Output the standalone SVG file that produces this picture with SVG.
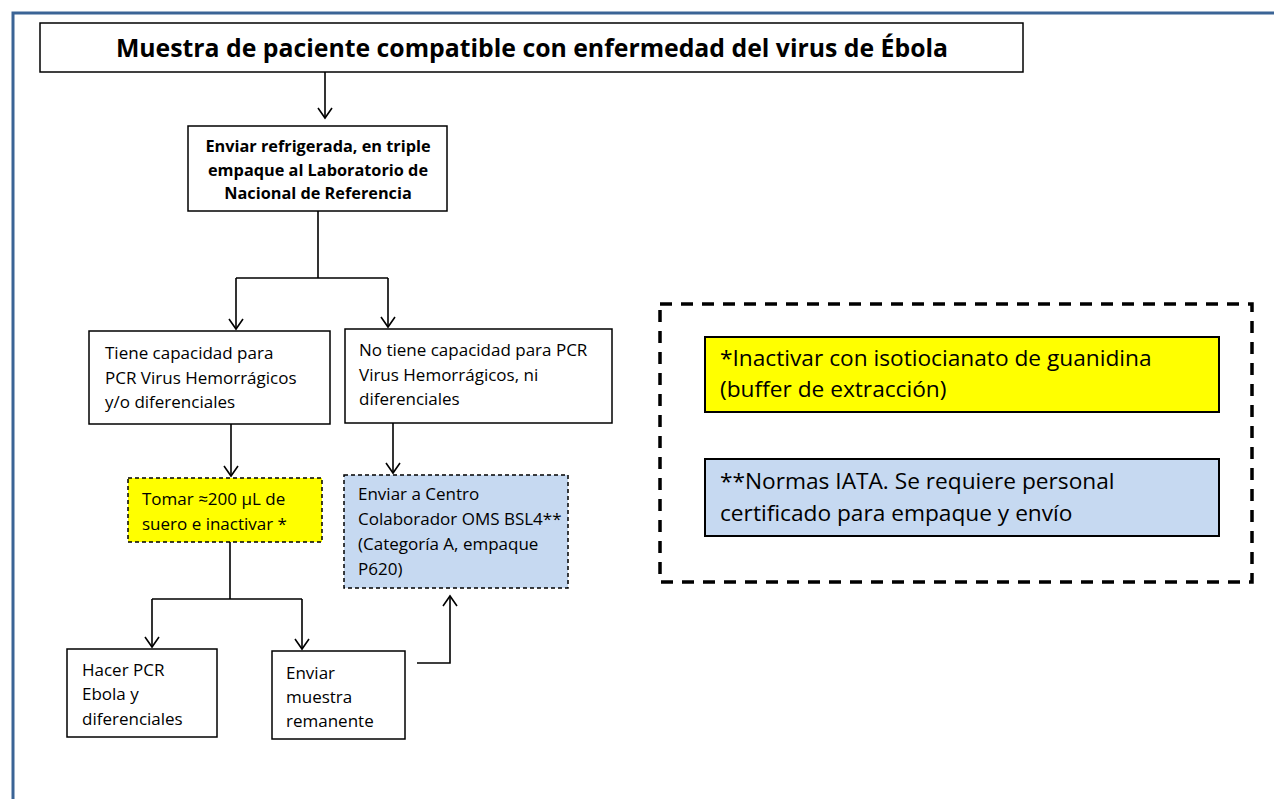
<svg xmlns="http://www.w3.org/2000/svg" width="1274" height="799" viewBox="0 0 1274 799">
<defs>
<marker id="arr" markerUnits="userSpaceOnUse" markerWidth="16" markerHeight="16" refX="12" refY="8" orient="auto">
<path d="M2,1 L12,8 L2,15" fill="none" stroke="#000" stroke-width="1.6"/>
</marker>
<style>
.box{fill:#fff;stroke:#000;stroke-width:1.5}
.ybox{fill:#ffff00;stroke:#000;stroke-width:1.5;stroke-dasharray:4,3}
.bbox{fill:#c6d9f1;stroke:#000;stroke-width:1.5;stroke-dasharray:4,3}
.ly{fill:#ffff00;stroke:#000;stroke-width:2}
.lb{fill:#c6d9f1;stroke:#000;stroke-width:2}
.line{fill:none;stroke:#000;stroke-width:1.6}
.t{font-family:"Open Sans","Noto Sans","Liberation Sans",sans-serif;font-size:17px;fill:#000}
.tb{font-family:"Open Sans","Noto Sans","Liberation Sans",sans-serif;font-size:16.3px;font-weight:bold;fill:#000;text-anchor:middle}
.tt{font-family:"Open Sans","Noto Sans","Liberation Sans",sans-serif;font-size:24.8px;font-weight:bold;fill:#000;text-anchor:middle}
.tl{font-family:"Open Sans","Noto Sans","Liberation Sans",sans-serif;font-size:22.7px;fill:#000}
</style>
</defs>
<rect width="1274" height="799" fill="#fff"/>
<path d="M13,799 L13,13 L1274,13" fill="none" stroke="#3b6496" stroke-width="3"/>

<g id="connectors">
<path class="line" d="M325,72 L325,118" marker-end="url(#arr)"/>
<path class="line" d="M318,211 L318,278 M236,278 L388,278"/>
<path class="line" d="M236,278 L236,329" marker-end="url(#arr)"/>
<path class="line" d="M388,278 L388,327" marker-end="url(#arr)"/>
<path class="line" d="M231,424 L231,476" marker-end="url(#arr)"/>
<path class="line" d="M393,423 L393,473" marker-end="url(#arr)"/>
<path class="line" d="M230,542 L230,599 M152,599 L302,599"/>
<path class="line" d="M152,599 L152,647" marker-end="url(#arr)"/>
<path class="line" d="M302,599 L302,649" marker-end="url(#arr)"/>
<path class="line" d="M417,663 L450,663 L450,596" marker-end="url(#arr)"/>
</g>

<g id="title">
<rect class="box" x="40" y="23" width="983" height="49"/>
<text class="tt" x="532" y="57">Muestra de paciente compatible con enfermedad del virus de Ébola</text>
</g>

<g id="enviar-refrigerada">
<rect class="box" x="188" y="126" width="259" height="85"/>
<text class="tb" x="318" y="152">Enviar refrigerada, en triple</text>
<text class="tb" x="318" y="176">empaque al Laboratorio de</text>
<text class="tb" x="318" y="199">Nacional de Referencia</text>
</g>

<g id="tiene-capacidad">
<rect class="box" x="89" y="331" width="241" height="93"/>
<text class="t" x="105" y="359">Tiene capacidad para</text>
<text class="t" x="105" y="384">PCR Virus Hemorrágicos</text>
<text class="t" x="105" y="408">y/o diferenciales</text>
</g>

<g id="no-tiene-capacidad">
<rect class="box" x="345" y="329" width="267" height="94"/>
<text class="t" x="359" y="356">No tiene capacidad para PCR</text>
<text class="t" x="359" y="381">Virus Hemorrágicos, ni</text>
<text class="t" x="359" y="405">diferenciales</text>
</g>

<g id="tomar-suero">
<rect class="ybox" x="128" y="478" width="194" height="64"/>
<text class="t" x="142" y="505">Tomar ≈200 µL de</text>
<text class="t" x="142" y="530">suero e inactivar *</text>
</g>

<g id="enviar-centro">
<rect class="bbox" x="344" y="475" width="224" height="113"/>
<text class="t" x="358" y="500">Enviar a Centro</text>
<text class="t" x="358" y="525">Colaborador OMS BSL4**</text>
<text class="t" x="358" y="550">(Categoría A, empaque</text>
<text class="t" x="358" y="575">P620)</text>
</g>

<g id="hacer-pcr">
<rect class="box" x="67" y="649" width="150" height="88"/>
<text class="t" x="82" y="676">Hacer PCR</text>
<text class="t" x="82" y="700">Ebola y</text>
<text class="t" x="82" y="725">diferenciales</text>
</g>

<g id="enviar-muestra">
<rect class="box" x="272" y="651" width="133" height="88"/>
<text class="t" x="286" y="679">Enviar</text>
<text class="t" x="286" y="703">muestra</text>
<text class="t" x="286" y="727">remanente</text>
</g>

<g id="legend">
<rect x="660" y="304" width="592" height="278" fill="none" stroke="#000" stroke-width="3.5" stroke-dasharray="12,9"/>
<rect class="ly" x="705" y="337" width="514" height="75"/>
<text class="tl" x="720" y="366">*Inactivar con isotiocianato de guanidina</text>
<text class="tl" x="720" y="397">(buffer de extracción)</text>
<rect class="lb" x="705" y="459" width="514" height="77"/>
<text class="tl" x="720" y="489">**Normas IATA. Se requiere personal</text>
<text class="tl" x="720" y="521">certificado para empaque y envío</text>
</g>
</svg>
